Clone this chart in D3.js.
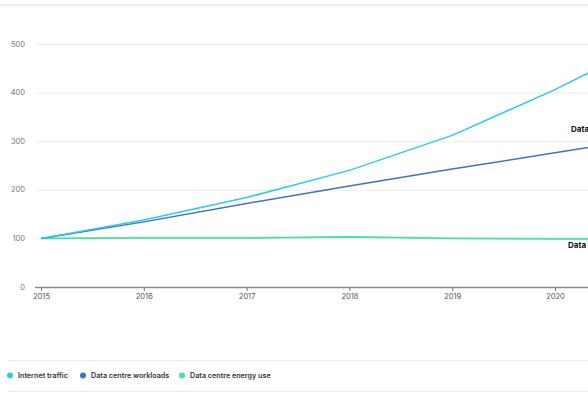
<!DOCTYPE html>
<html>
<head>
<meta charset="utf-8">
<script src="https://cdn.jsdelivr.net/npm/d3@7"></script>
<style>
  html, body { margin: 0; padding: 0; background: #fff; overflow: hidden; }
  body { width: 588px; height: 398px; }
  text { font-family: Inter, "Noto Sans", sans-serif; }
</style>
</head>
<body>
<div id="chart"></div>
<script>
const width = 700;
const height = 398;

// Index, 2015 = 100
const years = [2015, 2016, 2017, 2018, 2019, 2020, 2021];
const internetTraffic = [100, 138, 184, 240, 312, 406, 512];
const workloads = [100, 134, 172, 208, 243, 276, 310];
const energyUse = [100, 101, 101, 103, 100, 99, 99];
const yTicks = [0, 100, 200, 300, 400, 500];
const xTicks = [2015, 2016, 2017, 2018, 2019, 2020];

const seriesNames = ["Internet traffic", "Data centre workloads", "Data centre energy use"];
const seriesColors = ["#2ccbe6", "#3b74c2", "#3fe3a1"];
const seriesValues = [internetTraffic, workloads, energyUse];

const svg = d3.select("#chart").append("svg").attr("width", width).attr("height", height);

const x = d3.scaleLinear().domain([2015, 2021]).range([41, 41 + 6 * 102.8]);
const y = d3.scaleLinear().domain([0, 500]).range([287, 44]);

// top border with a soft shadow
svg.append("rect").attr("x", 0).attr("y", 4).attr("width", width).attr("height", 3).attr("fill", "#f6f6f6");
svg.append("line").attr("x1", 0).attr("x2", width).attr("y1", 4.5).attr("y2", 4.5)
    .attr("stroke", "#e4e4e4").attr("stroke-width", 1);

// gridlines
svg.selectAll(".grid").data(yTicks.filter(d => d > 0)).enter()
    .append("line")
    .attr("x1", 36).attr("x2", width)
    .attr("y1", d => y(d) + 0.5).attr("y2", d => y(d) + 0.5)
    .attr("stroke", "#ececec").attr("stroke-width", 1);

// y labels
svg.selectAll(".ylab").data(yTicks).enter()
    .append("text")
    .attr("x", 25).attr("y", d => y(d))
    .attr("dy", "0.35em")
    .attr("text-anchor", "end")
    .attr("font-size", 7.5)
    .attr("fill", "#777")
    .text(d => d);

// x axis
const xAxis = d3.axisBottom(x).tickValues(xTicks).tickFormat(d3.format("d")).tickSize(4).tickPadding(3);
const gx = svg.append("g").attr("transform", `translate(0,${y(0)})`).call(xAxis);
gx.select(".domain").attr("d", `M35,0.5H${width}`).attr("stroke", "#8a8a8a").attr("stroke-width", 1.6);
gx.selectAll(".tick line").attr("stroke", "#777").attr("stroke-width", 1);
gx.selectAll(".tick text").attr("font-size", 7.5).attr("fill", "#555")
    .attr("font-family", "Inter, 'Noto Sans', sans-serif");

// lines
const line = d3.line().x((d, i) => x(years[i])).y(d => y(d));
seriesValues.slice().reverse().forEach((vals, k) => {
    const idx = seriesValues.length - 1 - k;
    svg.append("path")
        .datum(vals)
        .attr("d", line)
        .attr("fill", "none")
        .attr("stroke", seriesColors[idx])
        .attr("stroke-width", idx === 2 ? 1.8 : 1.5)
        .attr("stroke-linejoin", "round");
});

// direct labels (cut off at the page edge, as in the original)
svg.append("text").attr("x", 571).attr("y", 132)
    .attr("font-size", 8).attr("font-weight", 700).attr("fill", "#111")
    .text("Data centre workloads");
svg.append("text").attr("x", 568).attr("y", 248)
    .attr("font-size", 8).attr("font-weight", 700).attr("fill", "#111")
    .text("Data centre energy use");

// legend
svg.append("line").attr("x1", 8).attr("x2", width).attr("y1", 360.5).attr("y2", 360.5)
    .attr("stroke", "#ececec");
svg.append("line").attr("x1", 8).attr("x2", width).attr("y1", 391.5).attr("y2", 391.5)
    .attr("stroke", "#ececec");

const legendX = [10, 83, 182];
const legend = svg.selectAll(".leg").data(seriesNames).enter()
    .append("g")
    .attr("transform", (d, i) => `translate(${legendX[i]},375.5)`);
legend.append("circle").attr("r", 3).attr("fill", (d, i) => seriesColors[i]);
legend.append("text")
    .attr("x", 8).attr("dy", "0.35em")
    .attr("font-size", 7.2).attr("font-weight", 600).attr("fill", "#333")
    .text(d => d);
</script>
</body>
</html>
